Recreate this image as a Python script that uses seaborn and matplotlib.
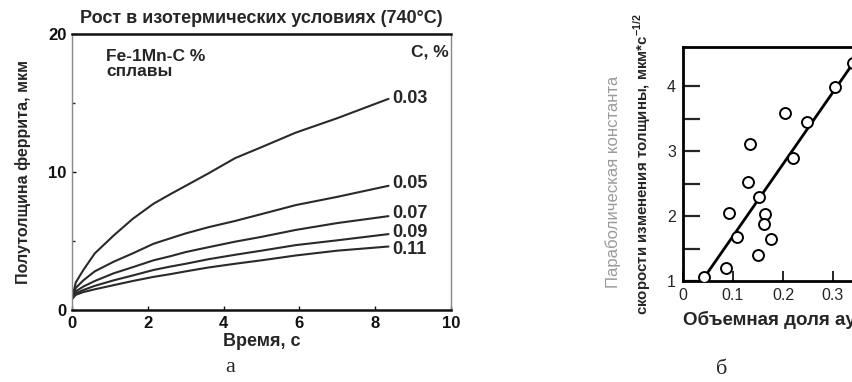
import numpy as np
import pandas as pd
import matplotlib
matplotlib.use("Agg")
import matplotlib.pyplot as plt
import seaborn as sns

# ---------------- data: panel a ----------------
time_s = [0, 0.1, 0.3, 0.6, 1.1, 1.6, 2.15, 2.6, 3.0, 3.6, 4.3, 5.0, 5.9, 7.0, 8.35]
carbon_labels = ["0.03", "0.05", "0.07", "0.09", "0.11"]
h_003 = [0.8, 2.0, 2.9, 4.1, 5.4, 6.6, 7.7, 8.4, 9.0, 9.9, 11.0, 11.8, 12.85, 13.9, 15.3]
h_005 = [0.8, 1.6, 2.15, 2.8, 3.5, 4.1, 4.8, 5.2, 5.55, 6.0, 6.45, 6.95, 7.6, 8.2, 9.0]
h_007 = [0.8, 1.35, 1.7, 2.1, 2.66, 3.1, 3.6, 3.9, 4.2, 4.55, 4.95, 5.3, 5.8, 6.3, 6.8]
h_009 = [0.8, 1.2, 1.45, 1.75, 2.15, 2.5, 2.9, 3.15, 3.35, 3.68, 4.0, 4.3, 4.7, 5.05, 5.5]
h_011 = [0.8, 1.1, 1.3, 1.5, 1.8, 2.1, 2.4, 2.6, 2.8, 3.08, 3.35, 3.6, 3.95, 4.3, 4.6]
x_ticks_a = [0, 2, 4, 6, 8, 10]
y_ticks_a = [0, 10, 20]

# ---------------- data: panel б ----------------
vol_frac = [0.043, 0.086, 0.093, 0.108, 0.151, 0.131, 0.135, 0.153, 0.165,
            0.163, 0.176, 0.203, 0.219, 0.248, 0.303, 0.339]
rate_const = [1.06, 1.20, 2.04, 1.68, 1.40, 2.53, 3.11, 2.30, 2.03,
              1.88, 1.65, 3.58, 2.90, 3.44, 3.98, 4.35]
fit_x = [0.043, 0.36]
fit_y = [1.06, 4.57]
x_ticks_b = [0, 0.1, 0.2, 0.3]
x_ticklabels_b = ["0", "0.1", "0.2", "0.3"]
y_ticks_b = [1, 2, 3, 4]

sns.set_theme(style="ticks")
plt.rcParams["font.family"] = ["Liberation Sans", "DejaVu Sans"]
plt.rcParams["mathtext.fontset"] = "custom"
plt.rcParams["mathtext.rm"] = "Liberation Sans"
plt.rcParams["mathtext.bf"] = "Liberation Sans:bold"

W, H = 853, 382
fig = plt.figure(figsize=(W / 100, H / 100), dpi=100)
fig.patch.set_facecolor("white")

# ---------- panel a ----------
ax1 = fig.add_axes([72 / W, 1 - 310 / H, 379 / W, 276 / H])
series = [h_003, h_005, h_007, h_009, h_011]
df = pd.DataFrame({
    "t": np.tile(time_s, len(series)),
    "h": np.concatenate(series),
    "C": np.repeat(carbon_labels, len(time_s)),
})
sns.lineplot(data=df, x="t", y="h", units="C", estimator=None, color="#2a2a2a",
             lw=1.5, ax=ax1, legend=False)
ax1.set_xlim(0, 10)
ax1.set_ylim(0, 20)
ax1.set_xticks(x_ticks_a)
ax1.set_yticks(y_ticks_a)
ax1.set_yticks([5, 15], minor=True)
ax1.tick_params(axis="both", labelsize=12, direction="in", length=3, width=1, pad=4,
                colors="#111")
ax1.tick_params(axis="y", which="minor", direction="in", length=2)
for lab in ax1.get_xticklabels() + ax1.get_yticklabels():
    lab.set_fontweight("bold")
ax1.set_xlabel("Время, с", fontsize=13, fontweight="bold", labelpad=2)
ax1.set_ylabel("Полутолщина феррита, мкм", fontsize=11.5, fontweight="bold", labelpad=12)
ax1.set_title("Рост в изотермических условиях (740°С)", fontsize=13, fontweight="bold", pad=8)
for side in ["top", "bottom"]:
    ax1.spines[side].set_linewidth(1.8)
    ax1.spines[side].set_color("#111")
for side in ["left", "right"]:
    ax1.spines[side].set_linewidth(1.0)
    ax1.spines[side].set_color("#888")
ax1.text(0.9, 18.9, "Fe-1Mn-C %\nсплавы", fontsize=12.5, fontweight="bold",
         va="top", ha="left", linespacing=0.95)
ax1.text(9.95, 18.7, "C, %", fontsize=12.5, fontweight="bold", va="center", ha="right")
label_dy = [0.0, 0.2, 0.2, 0.1, -0.25]
for lab, s, dy in zip(carbon_labels, series, label_dy):
    ax1.text(8.45, s[-1] + dy, lab, fontsize=13, fontweight="bold", va="center", ha="left")
fig.text(230 / W, 1 - 368 / H, "а", fontsize=16, family="Liberation Serif",
         ha="center", va="center")

# ---------- panel б ----------
ax2 = fig.add_axes([683 / W, 1 - 281 / H, 250 / W, 234 / H])
sns.lineplot(x=fit_x, y=fit_y, color="black", lw=2.0, ax=ax2, zorder=2)
sns.scatterplot(x=vol_frac, y=rate_const, marker="o", s=62, facecolor="white",
                edgecolor="black", linewidth=1.4, ax=ax2, zorder=3)
ax2.set_xlim(0, 0.5)
ax2.set_ylim(1.0, 4.6)
ax2.set_xticks(x_ticks_b)
ax2.set_xticklabels(x_ticklabels_b)
ax2.set_yticks(y_ticks_b)
ax2.set_yticks([1.5, 2.5, 3.5], minor=True)
ax2.tick_params(axis="y", which="both", direction="in", length=12, width=1.6,
                labelsize=11.5, pad=5)
ax2.tick_params(axis="x", which="both", direction="in", length=7, width=1.4,
                labelsize=11.5, pad=5)
for side in ["top", "bottom", "left"]:
    ax2.spines[side].set_linewidth(2.0)
    ax2.spines[side].set_color("black")
ax2.spines["right"].set_visible(False)
ax2.set_xlabel("")
ax2.set_ylabel("")
fig.text(683 / W, 1 - 320 / H, "Объемная доля аустенита", fontsize=13.5,
         fontweight="bold", ha="left", va="center")
fig.text(613 / W, 1 - 182 / H, "Параболическая константа", fontsize=12,
         color="#9a9a9a", rotation=90, ha="center", va="center")
fig.text(642 / W, 1 - 164 / H, "скорости изменения толщины, мкм*с$^{\\mathbf{-1/2}}$",
         fontsize=10.8, fontweight="bold", rotation=90, ha="center", va="center")
fig.text(722 / W, 1 - 370 / H, "б", fontsize=16, family="Liberation Serif",
         ha="center", va="center")

fig.savefig("out.png", dpi=100, facecolor="white")
